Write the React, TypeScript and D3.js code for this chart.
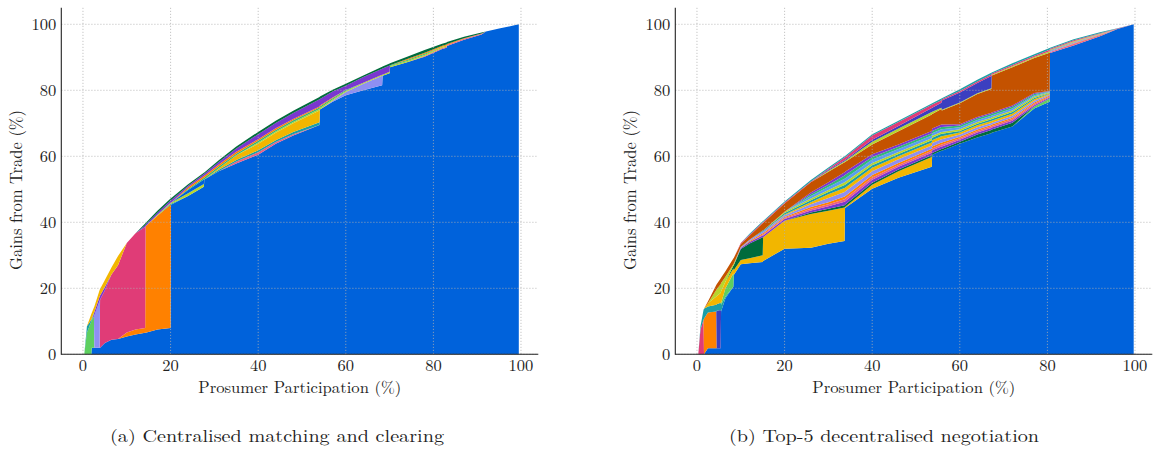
import React from "react";
import * as d3 from "d3";

// ---------------- Panel (a): Centralised matching and clearing ----------------
const xA = [0.3, 0.9, 1.9, 2.0, 2.5, 2.6, 3.8, 3.9, 5, 6.5, 8, 10, 12, 14.2, 14.3, 17, 20, 20.1, 24, 27.6, 27.7, 31, 35, 40, 44, 48, 54, 54.1, 57, 60, 64, 68.3, 68.4, 70, 70.1, 74, 78, 82, 83, 83.1, 87, 91, 92, 95, 99.5];
const aBlue = [0, 0, 0, 2, 2, 2, 2, 2, 3.4, 4.4, 4.6, 5.4, 6, 6.5, 6.5, 7.5, 8, 45.3, 48, 50.8, 53.0, 55.5, 57.8, 60.5, 63.8, 66.3, 69.5, 74.2, 76.5, 78.5, 80, 81.5, 84.4, 85.2, 87.0, 88.5, 90.2, 92.5, 92.9, 93.4, 95.3, 96.9, 97.8, 98.7, 100];
const aOrange = [0, 0, 0, 0, 0, 0, 0, 0, 0, 0, 0, 1.2, 1.5, 1.5, 32.3, 34.5, 37.3, 0, 0, 0, 0, 0, 0, 0, 0, 0, 0, 0, 0, 0, 0, 0, 0, 0, 0, 0, 0, 0, 0, 0, 0, 0, 0, 0, 0];
const aPink = [0, 0, 0, 0, 0, 0, 0, 14.5, 16, 19.8, 22.4, 27.1, 29.2, 30.6, 0, 0, 0, 0, 0, 0, 0, 0, 0, 0, 0, 0, 0, 0, 0, 0, 0, 0, 0, 0, 0, 0, 0, 0, 0, 0, 0, 0, 0, 0, 0];
const aGreen = [0, 6.5, 10, 8.3, 9.5, 0, 0, 0, 0, 0, 0, 0, 0, 0, 0, 0, 0, 0, 0, 0, 0, 0, 0, 0, 0, 0, 0, 0, 0, 0, 0, 0, 0, 0, 0, 0, 0, 0, 0, 0, 0, 0, 0, 0, 0];
const aLavender = [0, 0, 0, 0, 0, 9.8, 14.2, 0, 0, 0, 0, 0, 0, 0, 0, 0, 0, 0, 0, 0, 0, 0, 0, 0, 0, 0, 0, 0, 0.3, 1.0, 2.0, 2.9, 0, 0, 0, 0, 0, 0, 0, 0, 0, 0, 0, 0, 0];
const aPurpleLow = [0, 0, 0, 0, 0.8, 1.0, 1.3, 1.3, 1.0, 0, 0, 0, 0, 0, 0, 0, 0, 0, 0, 0, 0, 0, 0, 0, 0, 0, 0, 0, 0, 0, 0, 0, 0, 0, 0, 0, 0, 0, 0, 0, 0, 0, 0, 0, 0];
const aSalmon = [0, 0, 0, 0, 0, 0, 0, 0, 0, 0, 0, 0, 0, 0, 0, 0, 0, 0, 0, 0, 0, 0, 0.6, 0.7, 0.5, 0.4, 0, 0, 0, 0, 0, 0, 0, 0, 0, 0, 0.2, 0.3, 0.3, 0.3, 0.3, 0.2, 0, 0, 0];
const aTeal = [0, 2.0, 0.5, 0.5, 0.3, 0, 0, 0, 0, 0, 0, 0, 0, 0, 0, 0, 0.3, 0.3, 0, 0, 0, 0.4, 0.5, 0.6, 0.6, 0.7, 0.8, 0, 0, 0, 0, 0, 0, 0, 0, 0, 0, 0, 0, 0, 0, 0, 0, 0, 0];
const aYellow = [0, 0, 1.7, 1.7, 1.6, 1.7, 2.0, 2.0, 2.1, 2.1, 2.8, 0, 0, 0, 0, 0, 0, 0, 0, 0, 0, 0.5, 1.4, 2.0, 2.2, 2.6, 3.6, 0, 0, 0, 0, 0, 0, 0, 0, 0, 0, 0, 0, 0, 0, 0, 0, 0, 0];
const aLime = [0, 0, 0, 0, 0, 0, 0, 0, 0, 0, 0, 0, 0, 0, 0, 0.3, 0.3, 0.3, 0.8, 0.8, 0, 0, 0, 0.4, 0.4, 0.4, 0.4, 0.4, 0.4, 0.3, 0.3, 0.3, 0.3, 0.4, 0.4, 0.4, 0.4, 0.4, 0.4, 0, 0, 0, 0, 0, 0];
const aBlueUpper = [0, 0, 0, 0, 0, 0, 0, 0, 0, 0, 0, 0, 0, 0, 0, 0, 0, 0, 1.0, 1.4, 0, 0, 0, 0, 0, 0, 0, 0, 0, 0, 0, 0, 0, 0, 0, 0, 0, 0, 0, 0, 0, 0, 0, 0, 0];
const aSeaGreen = [0, 0, 0, 0, 0, 0, 0, 0, 0, 0, 0, 0, 0, 0, 0, 0, 0, 0, 0.3, 0.4, 0.5, 0.5, 0.5, 0.5, 0.5, 0.5, 0.5, 0.5, 0.4, 0.3, 0, 0, 0, 0, 0.2, 0.3, 0.3, 0, 0, 0, 0, 0, 0, 0, 0];
const aOrangeStrip = [0, 0, 0, 0, 0, 0, 0, 0, 0, 0, 0, 0, 0, 0, 0, 0, 0, 0, 0.5, 0.6, 0.6, 0.6, 0.6, 0.5, 0.5, 0.4, 0.3, 0.3, 0.2, 0, 0, 0, 0, 0, 0, 0.3, 0.3, 0.3, 0.3, 0.3, 0.2, 0.1, 0, 0, 0];
const aPurple = [0, 0, 0, 0, 0, 0, 0, 0, 0, 0, 0, 0, 0, 0.5, 0.5, 0.6, 0.7, 0.8, 0.5, 0.6, 0.6, 0.8, 1.0, 1.5, 1.6, 1.8, 2.2, 2.0, 1.8, 1.3, 1.7, 1.8, 1.9, 1.9, 0, 0, 0, 0, 0, 0, 0, 0, 0, 0, 0];
const aDarkGreen = [0, 0, 0, 0, 0, 0, 0, 0, 0, 0, 0, 0, 0, 0.5, 0.5, 0.6, 0.6, 0.6, 0.4, 0.4, 0.4, 0.5, 0.6, 0.7, 0.7, 0.7, 0.7, 0.7, 0.6, 0.6, 0.5, 0.6, 0.6, 0.6, 0.6, 0.7, 0.8, 0.6, 0.6, 0.6, 0.4, 0.3, 0, 0, 0];

// ---------------- Panel (b): Top-5 decentralised negotiation ----------------
const xB = [0.3, 0.8, 1.5, 1.6, 2.5, 4.4, 4.5, 5.4, 5.5, 6.5, 8.3, 8.4, 10, 12, 15, 15.1, 20, 26, 30, 33.7, 33.8, 40, 46, 53.6, 53.7, 55.8, 55.9, 60, 64, 67.2, 67.3, 72, 77, 80.5, 80.6, 86, 92, 96, 99.7];
const bBlue = [0, 0, 0, 0, 1.8, 1.8, 1.8, 1.8, 13, 17, 20.5, 24, 27.3, 27.6, 28, 28.3, 32, 32.3, 33.5, 34.3, 44.3, 50.2, 53.5, 56.8, 60.5, 61.7, 61.7, 63.8, 65.7, 67, 67.1, 69, 74.5, 76.5, 91.3, 93.6, 96.4, 98.6, 100];
const bPinkLow = [0, 7.5, 10.5, 0, 0, 0, 0, 0, 0, 0, 0, 0, 0, 0, 0, 0, 0, 0, 0, 0, 0, 0, 0, 0, 0, 0, 0, 0, 0, 0, 0, 0, 0, 0, 0, 0, 0, 0, 0];
const bOrangeLow = [0, 0, 0, 10.8, 10.9, 11.2, 0, 0, 0, 0, 0, 0, 0, 0, 0, 0, 0, 0, 0, 0, 0, 0, 0, 0, 0, 0, 0, 0, 0, 0, 0, 0, 0, 0, 0, 0, 0, 0, 0];
const bIndigoLow = [0, 0, 0, 0, 0, 0, 11.4, 11.6, 0, 0, 0, 0, 0, 0, 0, 0, 0, 0, 0, 0, 0, 0, 0, 0, 0, 0, 0, 0, 0, 0, 0, 0, 0, 0, 0, 0, 0, 0, 0];
const bTealLow = [0, 1.0, 3.0, 3.0, 1.8, 2.0, 2.0, 2.2, 2.0, 0.5, 0, 0, 0, 0, 0, 0, 0, 0, 0, 0, 0, 0, 0, 0, 0, 0, 0, 0, 0, 0, 0, 0, 0, 0, 0, 0, 0, 0, 0];
const bLightGreen = [0, 0, 0, 0, 0, 0, 0, 0, 0.5, 2.5, 4.0, 0, 0, 0, 0, 0, 0, 0, 0, 0, 0, 0, 0, 0, 0, 0, 0, 0, 0, 0, 0, 0, 0.6, 1.0, 0, 0, 0, 0, 0];
const bYellow = [0, 0, 0, 0, 1.0, 2.5, 2.5, 3.0, 3.5, 2.0, 1.5, 1.5, 1.3, 1.5, 2.0, 7.2, 8.5, 10.2, 10, 10.2, 0.3, 1.2, 2.0, 3.0, 0, 0, 0, 0, 0, 0, 0, 0, 0, 0, 0, 0, 0, 0, 0];
const bDarkGreen = [0, 0, 0, 0, 0, 0, 0, 0, 0, 0, 0.8, 1.5, 3.3, 4.5, 5.5, 0, 0, 0.5, 0.6, 0.7, 0.7, 0.6, 0.5, 0.5, 0.5, 0.5, 0.5, 0.6, 0.9, 1.0, 1.0, 1.2, 0, 0, 0, 0, 0, 0, 0];
const bPurple = [0, 0, 0, 0, 0, 0, 0, 0, 0, 0, 0, 0, 0.3, 0.4, 0.5, 0.5, 0.5, 0.6, 0.8, 1.0, 1.0, 0.9, 0.8, 0.8, 0.8, 0.8, 0.8, 0.6, 0.6, 0.6, 0.6, 0.6, 0.4, 0.3, 0, 0, 0, 0, 0];
const bPink = [0, 0, 0, 0, 0, 0, 0, 0, 0, 0, 0, 0, 0, 0, 0.3, 0.3, 0.3, 0.5, 0.6, 0.8, 0.8, 0.7, 0.6, 0.6, 0.6, 0.6, 0.6, 0.5, 0.5, 0.5, 0.5, 0.5, 0.4, 0.3, 0.3, 0.4, 0.3, 0, 0];
const bOrange = [0, 0, 0, 0, 0, 0, 0, 0, 0, 0, 0, 0, 0, 0.3, 0.4, 0.4, 0.3, 0.5, 0.6, 0.8, 0.8, 0.7, 0.6, 0.6, 0.6, 0.6, 0.6, 0.4, 0.4, 0.4, 0.4, 0.4, 0.4, 0.3, 0, 0.2, 0.1, 0, 0];
const bLavender = [0, 0, 0, 0, 0, 0, 0, 0, 0, 0, 0, 0, 0.3, 0.4, 0.5, 0.5, 0.5, 0.9, 1.3, 1.4, 1.4, 1.2, 1.1, 1.0, 1.0, 1.0, 1.0, 0.7, 0.7, 0.6, 0.6, 0.6, 0.5, 0.3, 0.3, 0.3, 0.2, 0, 0];
const bYellowStrip = [0, 0, 0, 0, 0, 0, 0, 0, 0, 0, 0, 0, 0, 0, 0, 0, 0.3, 0.6, 1.1, 1.2, 1.2, 1.0, 0.9, 0.9, 0.9, 0.9, 0.9, 0.6, 0.6, 0.6, 0.6, 0.6, 0.5, 0.3, 0.1, 0.1, 0, 0, 0];
const bTeal = [0, 0, 0, 0, 0, 0, 0, 0, 0, 0, 0, 0, 0, 0, 0.3, 0.3, 0.4, 0.6, 0.7, 0.9, 0.9, 0.8, 0.7, 0.7, 0.7, 0.7, 0.7, 0.5, 0.5, 0.5, 0.5, 0.5, 0.4, 0.2, 0.1, 0.1, 0, 0, 0];
const bLime = [0, 0, 0, 0, 0, 2.0, 2.0, 2.6, 2.6, 1.5, 0.5, 0.5, 0, 0, 0, 0, 0.4, 0.5, 0.6, 0.8, 0.8, 0.7, 0.6, 0.6, 0.6, 0.6, 0.6, 0.5, 0.5, 0.5, 0.5, 0.5, 0.4, 0.2, 0, 0, 0, 0, 0];
const bSkyBlue = [0, 0, 0, 0, 0, 0, 0, 0, 0, 0, 0, 0, 0, 0, 0, 0, 0, 0.8, 0.9, 1.1, 1.1, 1.0, 0.9, 0.8, 0.8, 0.8, 0.8, 0.6, 0.6, 0.6, 0.6, 0.6, 0.4, 0.2, 0, 0, 0, 0, 0];
const bGreen = [0, 0, 0, 0, 0, 0, 0, 0, 0, 0, 0, 0, 0, 0, 0, 0, 0, 0.5, 0.7, 1.0, 1.0, 0.8, 0.7, 0.7, 0.7, 0.7, 0.7, 0.5, 0.5, 0.5, 0.5, 0.5, 0.4, 0.1, 0, 0, 0, 0, 0];
const bPurpleStrip = [0, 0, 0, 0, 0, 0, 0, 0, 0, 0, 0, 0, 0, 0, 0, 0, 0, 0.5, 0.7, 1.0, 1.0, 0.8, 0.7, 0.7, 0.7, 0.7, 0.7, 0.4, 0.4, 0.4, 0.4, 0.4, 0.3, 0.1, 0, 0, 0, 0, 0];
const bBrown = [0, 0, 0, 0, 0.5, 1.5, 1.5, 1.8, 1.6, 1.7, 1.7, 1.7, 0.9, 1.2, 2.2, 2.3, 2.5, 3.1, 3.2, 3.0, 3.0, 3.0, 4.0, 5.0, 4.4, 4.7, 4.3, 6.4, 7.0, 7.2, 11.2, 11.6, 10.6, 11.6, 0, 0, 0, 0, 0];
const bLimeStrip = [0, 0, 0, 0, 0, 0, 0, 0, 0, 0, 0, 0, 0, 0, 0, 0, 0, 0, 0.3, 0.3, 0.3, 0.8, 0.8, 0.7, 0.7, 0.4, 0.2, 0.2, 0.2, 0.2, 0.2, 0.3, 0.3, 0.4, 0.2, 0.2, 0.1, 0, 0];
const bIndigoHigh = [0, 0, 0, 0, 0, 0, 0, 0, 0, 0, 0, 0, 0, 0, 0, 0, 0, 0, 0.3, 0.3, 0.3, 0.6, 0.8, 1.2, 1.2, 1.5, 2.8, 3.0, 3.1, 3.7, 0, 0, 0, 0, 0, 0, 0, 0, 0];
const bPinkHigh = [0, 0, 0, 0, 0, 0, 0, 0, 0, 0, 0, 0, 0.3, 0.3, 0.3, 0.3, 0.3, 0.3, 0.3, 0.8, 0.8, 1.3, 1.2, 1.0, 1.0, 0.8, 0.4, 0.5, 0.5, 0.5, 0.4, 0.4, 0.4, 0.5, 0.3, 0.3, 0.2, 0.1, 0];
const bTealHigh = [0, 0, 0, 0, 0, 0, 0, 0, 0, 0, 0, 0, 0, 0.3, 0.3, 0.3, 0.3, 0.4, 0.4, 0.4, 0.4, 0.4, 0.4, 0.4, 0.4, 0.5, 0.3, 0.5, 0.5, 0.5, 0.3, 0.5, 0.4, 0.5, 0.3, 0.3, 0.3, 0.1, 0];

const xTicks = [0, 20, 40, 60, 80, 100];
const yTicks = [0, 20, 40, 60, 80, 100];

const C = {
  blue: "#0062db",
  orange: "#ff8100",
  pink: "#e03c77",
  green: "#5dcf5f",
  lavender: "#8e8ff2",
  purple: "#7a37d0",
  salmon: "#ea5f86",
  teal: "#1b9ea6",
  yellow: "#f2b600",
  lime: "#b7d62b",
  seagreen: "#30b878",
  darkgreen: "#006b3c",
  brown: "#c45200",
  indigo: "#3b3fc0",
  sky: "#5a9cf0",
};

const seriesA = [
  { key: "blue", color: C.blue, values: aBlue },
  { key: "orange", color: C.orange, values: aOrange },
  { key: "pink", color: C.pink, values: aPink },
  { key: "green", color: C.green, values: aGreen },
  { key: "lavender", color: C.lavender, values: aLavender },
  { key: "purpleLow", color: C.purple, values: aPurpleLow },
  { key: "salmon", color: C.salmon, values: aSalmon },
  { key: "teal", color: C.teal, values: aTeal },
  { key: "yellow", color: C.yellow, values: aYellow },
  { key: "lime", color: C.lime, values: aLime },
  { key: "blueUpper", color: C.blue, values: aBlueUpper },
  { key: "seagreen", color: C.seagreen, values: aSeaGreen },
  { key: "orangeStrip", color: C.orange, values: aOrangeStrip },
  { key: "purple", color: C.purple, values: aPurple },
  { key: "darkgreen", color: C.darkgreen, values: aDarkGreen },
];

const seriesB = [
  { key: "blue", color: C.blue, values: bBlue },
  { key: "pinkLow", color: C.pink, values: bPinkLow },
  { key: "orangeLow", color: C.orange, values: bOrangeLow },
  { key: "indigoLow", color: C.indigo, values: bIndigoLow },
  { key: "tealLow", color: C.teal, values: bTealLow },
  { key: "lightgreen", color: C.green, values: bLightGreen },
  { key: "yellow", color: C.yellow, values: bYellow },
  { key: "darkgreen", color: C.darkgreen, values: bDarkGreen },
  { key: "purple", color: C.purple, values: bPurple },
  { key: "pink", color: C.salmon, values: bPink },
  { key: "orange", color: C.orange, values: bOrange },
  { key: "lavender", color: C.lavender, values: bLavender },
  { key: "yellowStrip", color: C.yellow, values: bYellowStrip },
  { key: "teal", color: C.teal, values: bTeal },
  { key: "lime", color: C.lime, values: bLime },
  { key: "sky", color: C.sky, values: bSkyBlue },
  { key: "green", color: C.seagreen, values: bGreen },
  { key: "purpleStrip", color: C.purple, values: bPurpleStrip },
  { key: "brown", color: C.brown, values: bBrown },
  { key: "limeStrip", color: C.lime, values: bLimeStrip },
  { key: "indigoHigh", color: C.indigo, values: bIndigoHigh },
  { key: "pinkHigh", color: C.pink, values: bPinkHigh },
  { key: "tealHigh", color: C.teal, values: bTealHigh },
];

const FONT = "'Latin Modern Roman','CMU Serif','Liberation Serif','Times New Roman',serif";

type Series = { key: string; color: string; values: number[] };

function Panel({ xs, series, left, right, ylabelX, caption, captionX, captionLen }: {
  xs: number[]; series: Series[]; left: number; right: number; ylabelX: number;
  caption: string; captionX: number; captionLen: number;
}) {
  const top = 7.8;
  const bottom = 354.3;
  const xScale = d3.scaleLinear().domain([-4.95, 103.95]).range([left, right]);
  const yScale = d3.scaleLinear().domain([0, 105]).range([bottom, top]);
  const rows = xs.map((x, i) => {
    const r: any = { x };
    series.forEach((s) => (r[s.key] = s.values[i]));
    return r;
  });
  const stacked = d3.stack<any>().keys(series.map((s) => s.key))(rows);
  const area = d3
    .area<any>()
    .x((d) => xScale(d.data.x))
    .y0((d) => yScale(d[0]))
    .y1((d) => yScale(d[1]));
  const midX = (left + right) / 2;
  return (
    <g>
      {stacked.map((layer, i) => (
        <path key={series[i].key} d={area(layer) || ""} fill={series[i].color} />
      ))}
      {xTicks.map((t) => (
        <line key={"gx" + t} x1={xScale(t)} x2={xScale(t)} y1={top} y2={bottom}
          stroke="#b0b0b0" strokeOpacity={0.8} strokeWidth={0.9} strokeDasharray="1.2,1.8" />
      ))}
      {yTicks.map((t) => (
        <line key={"gy" + t} x1={left} x2={right} y1={yScale(t)} y2={yScale(t)}
          stroke="#b0b0b0" strokeOpacity={0.8} strokeWidth={0.9} strokeDasharray="1.2,1.8" />
      ))}
      <line x1={left} x2={left} y1={top} y2={bottom + 0.5} stroke="#222" strokeWidth={1.1} />
      <line x1={left} x2={right} y1={bottom} y2={bottom} stroke="#222" strokeWidth={1.1} />
      {xTicks.map((t) => (
        <text key={"tx" + t} x={xScale(t)} y={371} textAnchor="middle" fontFamily={FONT}
          fontSize={16.5} fill="#222">{t}</text>
      ))}
      {yTicks.map((t) => (
        <text key={"ty" + t} x={left - 5} y={yScale(t) + 5.5} textAnchor="end" fontFamily={FONT}
          fontSize={16.5} fill="#222">{t}</text>
      ))}
      <text x={midX} y={393} textAnchor="middle" fontFamily={FONT} fontSize={16.5} fill="#222"
        textLength={203} lengthAdjust="spacingAndGlyphs">Prosumer Participation (%)</text>
      <text transform={`translate(${ylabelX},190) rotate(-90)`} textAnchor="middle" fontFamily={FONT}
        fontSize={17} fill="#222" textLength={160} lengthAdjust="spacingAndGlyphs">Gains from Trade (%)</text>
      <text x={captionX} y={442} textAnchor="middle" fontFamily={FONT} fontSize={17} fill="#222"
        textLength={captionLen} lengthAdjust="spacingAndGlyphs">{caption}</text>
    </g>
  );
}

export default function App() {
  return (
    <svg width={1156} height={454} style={{ position: "absolute", left: 0, top: 0, background: "#fff" }}>
      <rect x={0} y={0} width={1156} height={454} fill="#fff" />
      <Panel xs={xA} series={seriesA} left={61.3} right={538.3} ylabelX={22}
        caption="(a) Centralised matching and clearing" captionX={277} captionLen={334} />
      <Panel xs={xB} series={seriesB} left={675.3} right={1152.3} ylabelX={636}
        caption="(b) Top-5 decentralised negotiation" captionX={884} captionLen={310} />
    </svg>
  );
}
